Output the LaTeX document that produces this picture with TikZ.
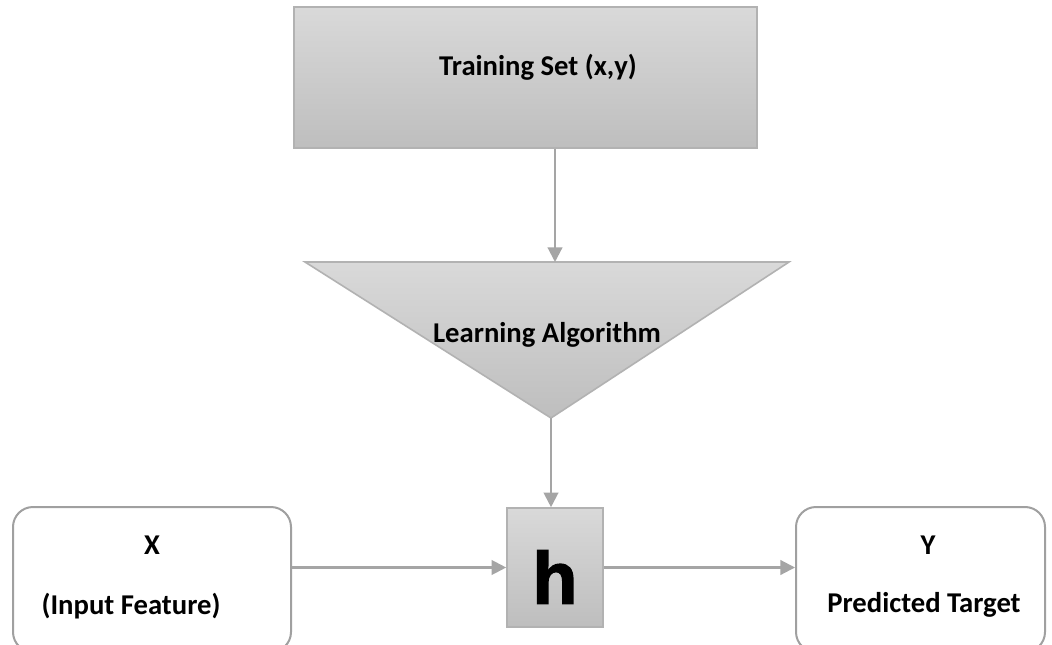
\documentclass[tikz,border=0pt]{standalone}
\usepackage{fontspec}
\setmainfont{Carlito}
\newfontfamily\hfont[BoldFeatures={FakeBold=2}]{Liberation Sans}
\usetikzlibrary{arrows.meta}
\definecolor{boxtop}{RGB}{217,217,217}
\definecolor{boxbot}{RGB}{190,190,190}
\definecolor{boxline}{RGB}{178,178,178}
\definecolor{arr}{RGB}{165,165,165}
\definecolor{rline}{RGB}{160,160,160}
\def\px{0.75pt}
\begin{document}
\begin{tikzpicture}[x=0.75pt,y=-0.75pt,
  graybox/.style={draw=boxline, line width=1.2pt, top color=boxtop, bottom color=boxbot, inner sep=0pt},
  roundbox/.style={draw=rline, line width=1.5pt, rounded corners=15pt, fill=white, inner sep=0pt},
  conn/.style={draw=arr, line width=1.6pt, -{Triangle[length=11pt,width=11pt]}},
  lbl/.style={font=\bfseries\fontsize{21.5}{26}\selectfont, inner sep=0pt, text=black}]
\useasboundingbox (0,0) rectangle (1052,645);
\fill[white] (0,0) rectangle (1052,645);
% Training set box
\node[graybox, minimum width=463*\px, minimum height=141*\px] (ts) at (525.5,77.5) {};
\node[lbl] (tslbl) at (538,67) {Training Set (x,y)};
% Learning algorithm triangle
\coordinate (tl) at (305,262);
\coordinate (tr) at (789,262);
\coordinate (apex) at (551,418);
\coordinate (latop) at (555,262);
\path[draw=boxline, line width=1.2pt, top color=boxtop, bottom color=boxbot] (tl) -- (tr) -- (apex) -- cycle;
\node[lbl] (la) at (547,335) {Learning Algorithm};
% h box
\node[graybox, minimum width=96*\px, minimum height=119*\px] (h) at (555,567.5) {};
\node[inner sep=0pt, font=\hfont\bfseries\fontsize{55}{60}\selectfont] (hl) at (555,577) {h};
% X box
\node[roundbox, minimum width=278*\px, minimum height=145*\px] (xb) at (152,579.5) {};
\node[lbl] (xl) at (152,545) {X};
\node[lbl] (xd) at (131,606) {(Input Feature)};
% Y box
\node[roundbox, minimum width=249*\px, minimum height=145*\px] (yb) at (920.5,579.5) {};
\node[lbl] (yl) at (928,545) {Y};
\node[lbl] (yd) at (924,605) {Predicted Target};
% connectors
\draw[conn] (ts.south -| latop) -- (latop);
\draw[conn] (apex) -- (apex |- h.north);
\draw[conn] (h.west -| xb.east) -- (h.west);
\draw[conn] (h.east) -- (h.east -| yb.west);
\end{tikzpicture}
\end{document}
